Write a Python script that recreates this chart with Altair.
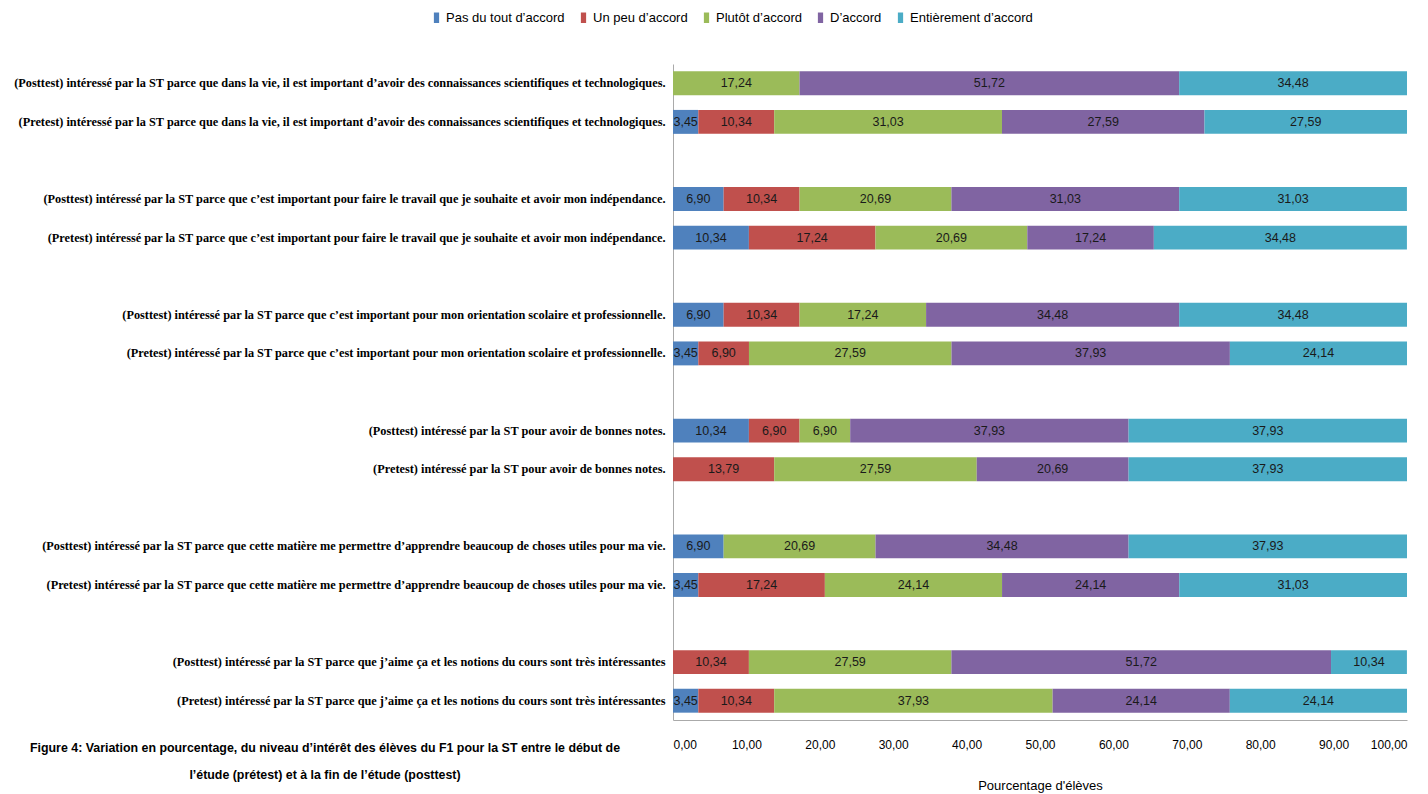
import altair as alt
import pandas as pd

categories = ["Pas du tout d’accord", "Un peu d’accord", "Plutôt d’accord", "D’accord", "Entièrement d’accord"]
colors = ["#4F81BD", "#C0504D", "#9BBB59", "#8064A2", "#4BACC6"]

row_labels = [
    "(Posttest) intéressé par la ST parce que dans la vie, il est important d’avoir des connaissances scientifiques et technologiques.",
    "(Pretest) intéressé par la ST parce que dans la vie, il est important d’avoir des connaissances scientifiques et technologiques.",
    "(Posttest) intéressé par la ST parce que c’est important pour faire le travail que je souhaite et avoir mon indépendance.",
    "(Pretest) intéressé par la ST parce que c’est important pour faire le travail que je souhaite et avoir mon indépendance.",
    "(Posttest) intéressé par la ST parce que c’est important pour mon orientation scolaire et professionnelle.",
    "(Pretest) intéressé par la ST parce que c’est important pour mon orientation scolaire et professionnelle.",
    "(Posttest) intéressé par la ST pour avoir de bonnes notes.",
    "(Pretest) intéressé par la ST pour avoir de bonnes notes.",
    "(Posttest) intéressé par la ST parce que cette matière me permettre d’apprendre beaucoup de choses utiles pour ma vie.",
    "(Pretest) intéressé par la ST parce que cette matière me permettre d’apprendre beaucoup de choses utiles pour ma vie.",
    "(Posttest) intéressé par la ST parce que j’aime ça et les notions du cours sont très intéressantes",
    "(Pretest) intéressé par la ST parce que j’aime ça et les notions du cours sont très intéressantes",
]

pas_du_tout = [0, 3.45, 6.90, 10.34, 6.90, 3.45, 10.34, 0, 6.90, 3.45, 0, 3.45]
un_peu = [0, 10.34, 10.34, 17.24, 10.34, 6.90, 6.90, 13.79, 0, 17.24, 10.34, 10.34]
plutot = [17.24, 31.03, 20.69, 20.69, 17.24, 27.59, 6.90, 27.59, 20.69, 24.14, 27.59, 37.93]
d_accord = [51.72, 27.59, 31.03, 17.24, 34.48, 37.93, 37.93, 20.69, 34.48, 24.14, 51.72, 24.14]
entierement = [34.48, 27.59, 31.03, 34.48, 34.48, 24.14, 37.93, 37.93, 37.93, 31.03, 10.34, 24.14]

x_ticks = [0, 10, 20, 30, 40, 50, 60, 70, 80, 90, 100]

series = [pas_du_tout, un_peu, plutot, d_accord, entierement]
records = []
for r, lab in enumerate(row_labels):
    for c, cat in enumerate(categories):
        v = series[c][r]
        if v > 0:
            records.append({"row": lab, "cat": cat, "ci": c, "value": v})
df = pd.DataFrame(records)

# y domain with blank spacer slots between pairs
domain = []
for i in range(0, len(row_labels), 2):
    if i > 0:
        domain.append(" " * (i // 2))
    domain.append(row_labels[i])
    domain.append(row_labels[i + 1])

lab_font = "Liberation Serif"
num_font = "Liberation Sans Narrow, Liberation Sans, sans-serif"

base = alt.Chart(df).transform_stack(
    stack="value", groupby=["row"], sort=[alt.SortField("ci")], as_=["x0", "x1"]
).transform_calculate(
    xe="min(datum.x1, 100)",
    mid="(datum.x0 + min(datum.x1, 100)) / 2",
    lbl="replace(format(datum.value, '.2f'), '.', ',')",
)

yenc = alt.Y(
    "row:N",
    scale=alt.Scale(domain=domain, paddingInner=0.38, paddingOuter=0.19),
    axis=alt.Axis(
        title=None, ticks=False, labelLimit=900, labelPadding=8,
        labelFont=lab_font, labelFontSize=12.3, labelFontWeight="bold",
        labelColor="#000000", domainColor="#aaaaaa",
    ),
)

bars = base.mark_bar().encode(
    x=alt.X(
        "x0:Q",
        scale=alt.Scale(domain=[0, 100], nice=False),
        axis=alt.Axis(
            values=x_ticks, title="Pourcentage d'élèves", grid=False, ticks=False,
            labelExpr="replace(format(datum.value, '.2f'), '.', ',')",
            labelFont=num_font, labelFontSize=12, labelColor="#000000", labelPadding=19,
            titleFont=num_font, titleFontSize=13, titleFontWeight="normal",
            titleColor="#000000", titlePadding=29, domainColor="#aaaaaa",
        ),
    ),
    x2="xe:Q",
    y=yenc,
    color=alt.Color(
        "cat:N",
        scale=alt.Scale(domain=categories, range=colors),
        legend=alt.Legend(
            title=None, orient="none", direction="horizontal", legendX=-243, legendY=-53,
            symbolType="M-0.5,-1H0.5V1H-0.5Z", symbolSize=110, labelFont=num_font, labelFontSize=13,
            labelColor="#000000", columnPadding=12, labelOffset=3,
        ),
    ),
)

texts = base.mark_text(font=num_font, fontSize=12.5, color="#1a1a1a").encode(
    x="mid:Q",
    y=alt.Y("row:N", scale=alt.Scale(domain=domain)),
    text="lbl:N",
)

chart = alt.layer(bars, texts).properties(
    width=734, height=656,
    padding={"left": 5, "right": 5, "top": 3, "bottom": 5},
    title=alt.TitleParams(
        text=["Figure 4: Variation en pourcentage, du niveau d’intérêt des élèves du F1 pour la ST entre le début de",
              "l’étude (prétest) et à la fin de l’étude (posttest)"],
        orient="bottom", anchor="start", frame="group", align="center", dx=-348, dy=-54,
        font=num_font, fontSize=12.4, fontWeight="bold", color="#000000", lineHeight=27,
    ),
).configure_view(stroke=None)

chart.save("out.html", embed_options={"renderer": "svg", "actions": False})
